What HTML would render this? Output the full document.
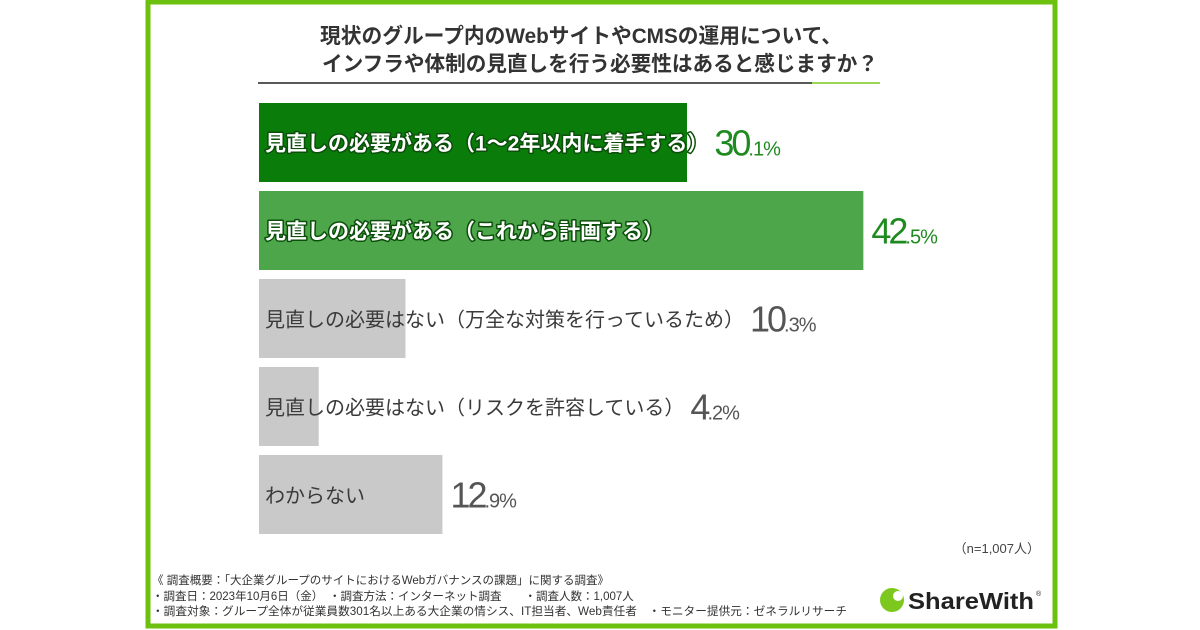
<!DOCTYPE html>
<html><head><meta charset="utf-8"><style>
html,body{margin:0;padding:0;background:#fff;}
svg{display:block;font-family:"Liberation Sans","Noto Sans CJK JP",sans-serif;}
</style></head><body>
<svg id="c" width="1200" height="630" viewBox="0 0 1200 630">
<rect x="148" y="2" width="907" height="624" fill="#fff" stroke="#6cc00e" stroke-width="5"/>
<g font-size="21" font-weight="bold" fill="#333">
<text x="320" y="43" textLength="522" lengthAdjust="spacingAndGlyphs">現状のグループ内のWebサイトやCMSの運用について、</text>
<text x="322" y="71" textLength="556" lengthAdjust="spacingAndGlyphs">インフラや体制の見直しを行う必要性はあると感じますか？</text>
</g>
<line x1="258" y1="83" x2="812" y2="83" stroke="#222" stroke-width="1.5"/>
<line x1="812" y1="83" x2="880" y2="83" stroke="#7dc81e" stroke-width="1.5"/>
<g id="bars"></g>
<text x="1040" y="553" font-size="13" fill="#444" text-anchor="end">（n=1,007人）</text>
<g font-size="11.5" fill="#333">
<text x="152" y="584">《 調査概要：「大企業グループのサイトにおけるWebガバナンスの課題」に関する調査》</text>
<text x="152" y="600">・調査日：2023年10月6日（金）　・調査方法：インターネット調査　　・調査人数：1,007人</text>
<text x="152" y="615" textLength="695" lengthAdjust="spacingAndGlyphs">・調査対象：グループ全体が従業員数301名以上ある大企業の情シス、IT担当者、Web責任者　・モニター提供元：ゼネラルリサーチ</text>
</g>
<g>
<circle cx="892" cy="600" r="12" fill="#7dc81e"/>
<circle cx="898" cy="596" r="5" fill="#fff"/>
<text x="908" y="609" font-size="23" font-weight="bold" fill="#222" textLength="126" lengthAdjust="spacingAndGlyphs">ShareWith</text>
<text x="1036" y="596" font-size="7" fill="#222">®</text>
</g>
</svg>
<script>
const categories=["見直しの必要がある（1～2年以内に着手する）","見直しの必要がある（これから計画する）","見直しの必要はない（万全な対策を行っているため）","見直しの必要はない（リスクを許容している）","わからない"];
const values=[30.1,42.5,10.3,4.2,12.9];
const barColors=["#097c09","#4da64a","#c9c9c9","#c9c9c9","#c9c9c9"];
const labelColors=["#fff","#fff","#3a3a3a","#3a3a3a","#3a3a3a"];
const valueColors=["#1f8a1f","#1f8a1f","#555","#555","#555"];
const x0=259, pxPer=14.22, y0=103, step=88, bh=79;
const xs=v=>x0+v*pxPer;
const ns="http://www.w3.org/2000/svg";
const g=document.getElementById('bars');
categories.forEach((c,i)=>{
  const y=y0+i*step;
  const r=document.createElementNS(ns,'rect');
  
  
  r.setAttribute('x',x0);r.setAttribute('y',y);
  r.setAttribute('width',xs(values[i])-x0);r.setAttribute('height',bh);
  r.setAttribute('fill',barColors[i]);
  g.appendChild(r);
  const t=document.createElementNS(ns,'text');
  
  
  t.setAttribute('x',265);t.setAttribute('y',y+bh/2+8);
  t.setAttribute('font-size',i<2?'21':'20');
  t.setAttribute('font-weight',i<2?'bold':'normal');
  t.setAttribute('fill',labelColors[i]);
  if(i<2){t.setAttribute('stroke','#0b4f0b');t.setAttribute('stroke-width','3');t.setAttribute('paint-order','stroke');t.setAttribute('stroke-linejoin','round');}
  t.textContent=c;
  g.appendChild(t);
  const lw=t.getComputedTextLength();
  const vx=Math.max(xs(values[i])+8,265+lw+6);
  const vt=document.createElementNS(ns,'text');
  
  
  vt.setAttribute('x',vx);vt.setAttribute('y',y+bh/2+13);
  vt.setAttribute('fill',valueColors[i]);
  const parts=values[i].toFixed(1).split('.');
  const a=document.createElementNS(ns,'tspan');a.setAttribute('font-size','36');a.setAttribute('letter-spacing','-3');a.textContent=parts[0];
  const b=document.createElementNS(ns,'tspan');b.setAttribute('font-size','20');b.setAttribute('letter-spacing','-1');b.textContent='.'+parts[1]+'%';
  vt.appendChild(a);vt.appendChild(b);
  g.appendChild(vt);
});
</script>
</body></html>
